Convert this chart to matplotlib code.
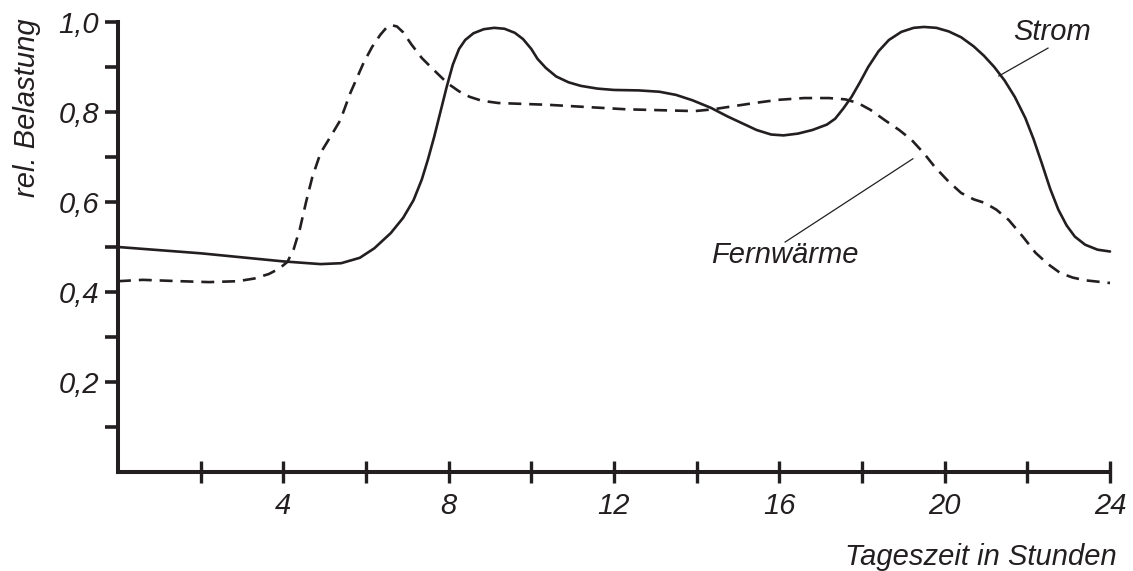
import matplotlib
matplotlib.use("Agg")
import matplotlib.pyplot as plt
from matplotlib.ticker import FixedLocator

plt.rcParams['font.family'] = ['Liberation Sans', 'DejaVu Sans']

INK = '#231f20'
FS = 21

# Tageslastgang: Strom (durchgezogen)
strom_h = [0.0, 2.0, 4.0, 4.9, 5.4, 5.85, 6.2, 6.6, 6.9, 7.15, 7.35, 7.5, 7.65,
           7.8, 7.95, 8.1, 8.25, 8.4, 8.6, 8.85, 9.1, 9.35, 9.6, 9.8, 10.0,
           10.15, 10.35, 10.6, 10.9, 11.2, 11.6, 12.0, 12.6, 13.1, 13.5, 13.9,
           14.35, 14.75, 15.1, 15.45, 15.8, 16.1, 16.45, 16.8, 17.15, 17.35,
           17.55, 17.75, 17.95, 18.15, 18.4, 18.65, 18.95, 19.25, 19.5, 19.8,
           20.1, 20.4, 20.7, 20.95, 21.2, 21.45, 21.7, 21.95, 22.15, 22.35,
           22.55, 22.75, 22.95, 23.15, 23.4, 23.7, 24.0]
strom = [0.500, 0.486, 0.468, 0.462, 0.464, 0.476, 0.497, 0.531, 0.565, 0.604,
         0.650, 0.695, 0.745, 0.800, 0.855, 0.905, 0.940, 0.960, 0.975, 0.984,
         0.987, 0.985, 0.976, 0.962, 0.940, 0.918, 0.898, 0.879, 0.866, 0.858,
         0.852, 0.849, 0.848, 0.845, 0.838, 0.826, 0.809, 0.790, 0.775, 0.760,
         0.750, 0.748, 0.752, 0.760, 0.772, 0.785, 0.808, 0.834, 0.866, 0.900,
         0.935, 0.960, 0.978, 0.987, 0.989, 0.987, 0.979, 0.966, 0.946, 0.925,
         0.900, 0.870, 0.833, 0.787, 0.740, 0.686, 0.630, 0.583, 0.548, 0.523,
         0.505, 0.494, 0.490]

# Tageslastgang: Fernwärme (gestrichelt)
fw_h = [0.0, 0.6, 1.5, 2.2, 2.9, 3.3, 3.65, 3.9, 4.1, 4.25, 4.4, 4.55, 4.7,
        4.9, 5.14, 5.38, 5.62, 5.94, 6.15, 6.35, 6.5, 6.62, 6.75, 6.9, 7.1,
        7.35, 7.6, 7.97, 8.25, 8.5, 8.8, 9.2, 10.4, 12.3, 13.95, 14.4, 14.75,
        15.4, 15.97, 16.6, 17.2, 17.6, 17.9, 18.2, 18.55, 18.9, 19.2, 19.5,
        19.76, 20.1, 20.4, 20.7, 20.97, 21.25, 21.55, 21.9, 22.2, 22.5, 22.8,
        23.1, 23.4, 24.0]
fw = [0.424, 0.427, 0.424, 0.422, 0.424, 0.430, 0.440, 0.452, 0.467, 0.495,
      0.540, 0.600, 0.655, 0.709, 0.745, 0.782, 0.842, 0.909, 0.945, 0.972,
      0.988, 0.993, 0.990, 0.977, 0.950, 0.920, 0.897, 0.864, 0.846, 0.834,
      0.825, 0.820, 0.816, 0.806, 0.802, 0.806, 0.811, 0.820, 0.827, 0.831,
      0.831, 0.828, 0.820, 0.805, 0.782, 0.760, 0.738, 0.708, 0.678, 0.645,
      0.620, 0.606, 0.598, 0.583, 0.560, 0.522, 0.487, 0.462, 0.442, 0.432,
      0.426, 0.420]

x_major = [4, 8, 12, 16, 20, 24]
x_minor = [2, 6, 10, 14, 18, 22]
y_major = [0.2, 0.4, 0.6, 0.8, 1.0]
y_labels = ['0,2', '0,4', '0,6', '0,8', '1,0']
y_minor = [0.1, 0.3, 0.5, 0.7, 0.9]

W, H = 1133, 571
fig = plt.figure(figsize=(W / 100, H / 100), dpi=100)
ax = fig.add_axes([118 / W, (H - 472) / H, (1110 - 118) / W, (472 - 22) / H])

ax.plot(strom_h, strom, color=INK, lw=1.9, solid_joinstyle='round',
        solid_capstyle='round', clip_on=False)
ax.plot(fw_h, fw, color=INK, lw=1.9, dashes=(4.9, 3.0), clip_on=False)

ax.set_xlim(0, 24)
ax.set_ylim(0, 1.0)

for side in ('top', 'right'):
    ax.spines[side].set_visible(False)
for side in ('left', 'bottom'):
    ax.spines[side].set_linewidth(2.9)
    ax.spines[side].set_color(INK)
    ax.spines[side].set_capstyle('projecting')

ax.xaxis.set_major_locator(FixedLocator(x_major))
ax.xaxis.set_minor_locator(FixedLocator(x_minor))
ax.set_xticklabels([str(v) for v in x_major])
ax.yaxis.set_major_locator(FixedLocator(y_major))
ax.yaxis.set_minor_locator(FixedLocator(y_minor))
ax.set_yticklabels(y_labels)

ax.tick_params(axis='x', which='both', direction='inout', length=16.5,
               width=2.4, color=INK, pad=6)
ax.tick_params(axis='y', which='both', direction='out', length=9.5, width=2.6,
               color=INK, pad=4)
for lab in ax.get_xticklabels() + ax.get_yticklabels():
    lab.set_fontstyle('italic')
    lab.set_fontsize(FS)
    lab.set_color(INK)

fig.text(27 / W, 1 - 108 / H, 'rel. Belastung', rotation=90, ha='center',
         va='center', fontsize=FS, style='italic', color=INK)
fig.text(981 / W, 1 - 565 / H, 'Tageszeit in Stunden', ha='center',
         va='baseline', fontsize=FS, style='italic', color=INK)

# Beschriftung der Kurven mit Hinweislinien
ax.text(22.6, 0.960, 'Strom', fontsize=FS, style='italic', color=INK,
        ha='center', va='baseline')
ax.plot([22.5, 21.31], [0.942, 0.880], color=INK, lw=0.9)
ax.text(16.14, 0.464, 'Fernwärme', fontsize=FS, style='italic', color=INK,
        ha='center', va='baseline')
ax.plot([16.14, 19.23], [0.511, 0.696], color=INK, lw=0.9)

fig.savefig('out.png', dpi=100, facecolor='white')
